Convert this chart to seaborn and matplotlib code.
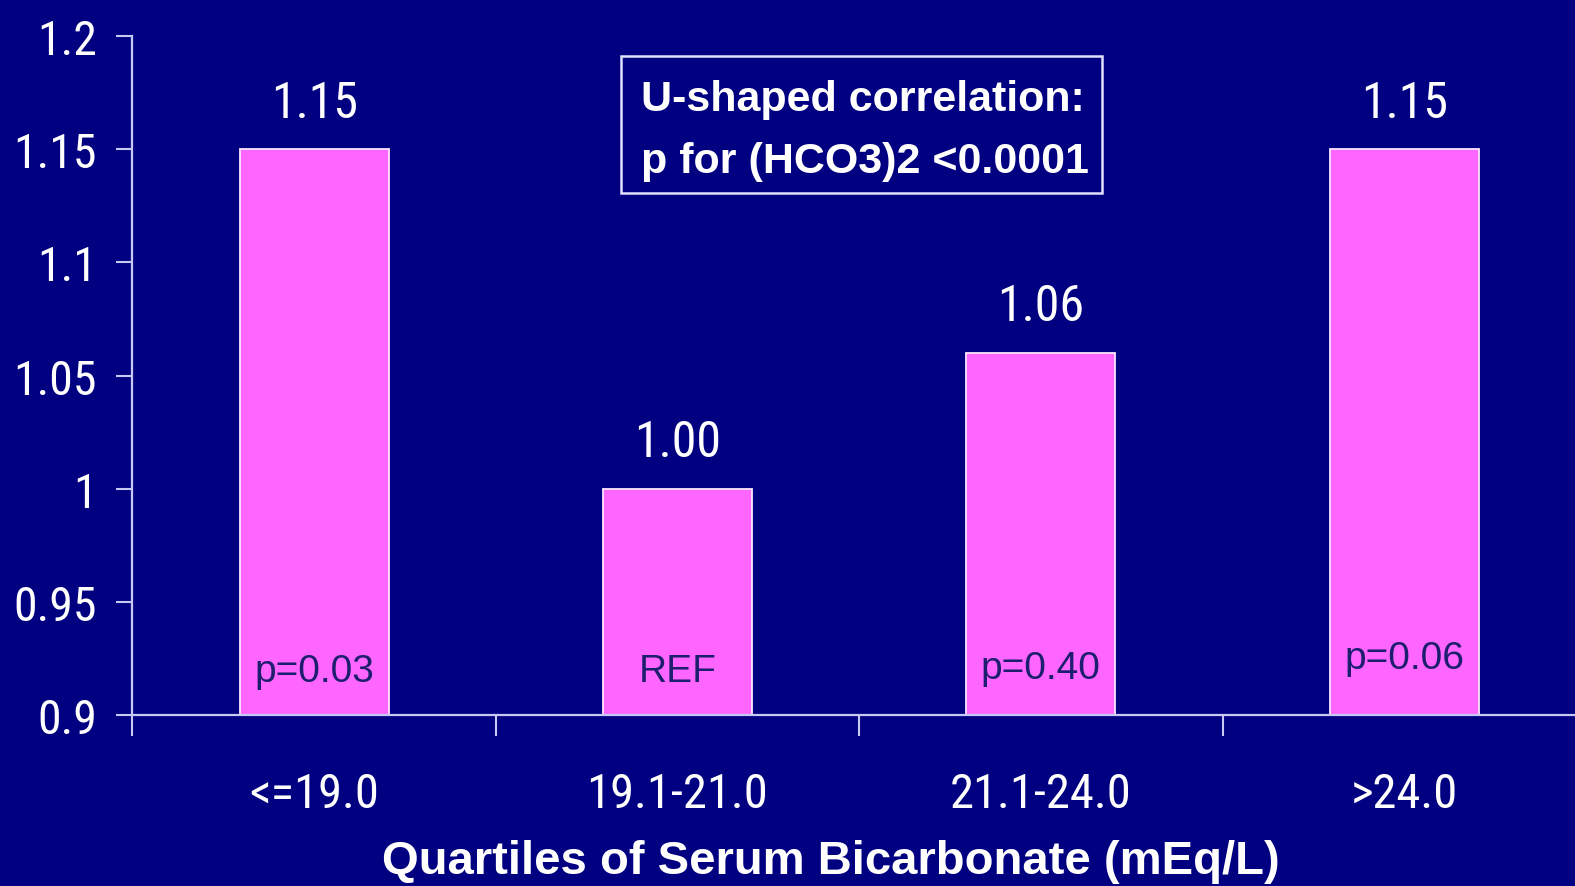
import matplotlib
matplotlib.use("Agg")
import matplotlib.pyplot as plt
from matplotlib.patches import Rectangle
import seaborn as sns
import pandas as pd

# Hazard ratios by quartile of serum bicarbonate
quartiles = ["<=19.0", "19.1-21.0", "21.1-24.0", ">24.0"]
hazard_ratio = [1.15, 1.00, 1.06, 1.15]
value_labels = ["1.15", "1.00", "1.06", "1.15"]
p_labels = ["p=0.03", "REF", "p=0.40", "p=0.06"]
y_ticks = [0.9, 0.95, 1.0, 1.05, 1.1, 1.15, 1.2]
y_tick_labels = ["0.9", "0.95", "1", "1.05", "1.1", "1.15", "1.2"]
note_lines = ["U-shaped correlation:", "p for (HCO3)2 <0.0001"]
x_title = "Quartiles of Serum Bicarbonate (mEq/L)"

BG = "#000080"
BAR = "#FF66FF"
AXIS = "#C8C8F4"
TEXT = "#FFFFFF"
INNER = "#1E1E6E"

sns.set_theme(style="ticks")
plt.rcParams["font.family"] = ["Roboto Condensed", "Liberation Sans", "DejaVu Sans"]
WIDE_FAMILY = ["Liberation Sans", "DejaVu Sans"]

df = pd.DataFrame({"quartile": quartiles, "hr": hazard_ratio})

fig = plt.figure(figsize=(15.75, 8.87), dpi=100, facecolor=BG)
ax = fig.add_axes([0.0841, 0.1926, 0.9228, 0.7655])
ax.set_facecolor(BG)

sns.barplot(data=df, x="quartile", y="hr", color=BAR, saturation=1,
            width=0.41, edgecolor="#FFE6FF", linewidth=1.3, ax=ax)

ax.set_ylim(0.9, 1.2)
ax.set_xlim(-0.5, 3.5)
ax.set_yticks(y_ticks)
ax.set_yticklabels(y_tick_labels)
ax.set_xticks([i - 0.5 for i in range(len(quartiles) + 1)], minor=False)
ax.set_xticklabels([""] * (len(quartiles) + 1))
ax.set_xticks(range(len(quartiles)), minor=True)
ax.set_xticklabels(quartiles, minor=True)
ax.tick_params(axis="x", which="minor", length=0, pad=40, labelsize=35, labelcolor=TEXT)
ax.tick_params(axis="x", which="major", length=15, width=1.5, color=AXIS, direction="out")
ax.tick_params(axis="y", length=11.5, width=1.5, color=AXIS, direction="out",
               pad=14, labelsize=34.5, labelcolor=TEXT)

for side in ["top", "right"]:
    ax.spines[side].set_visible(False)
for side in ["left", "bottom"]:
    ax.spines[side].set_color(AXIS)
    ax.spines[side].set_linewidth(1.6)
ax.set_xlabel("")
ax.set_ylabel("")

# value labels above bars and p-values inside bars
inner_baseline = [0.9151, 0.9151, 0.9164, 0.9209]
for i, (v, lab, pl) in enumerate(zip(hazard_ratio, value_labels, p_labels)):
    ax.annotate(lab, xy=(i, v), xytext=(0, 23.5), textcoords="offset points",
                ha="center", va="baseline", fontsize=36, color=TEXT)
    ax.text(i, inner_baseline[i], pl, ha="center", va="baseline", fontsize=28,
            color=INNER, family=WIDE_FAMILY)

# boxed note
fig.patches.append(Rectangle((0.3943, 0.7813), 0.3054, 0.1545, transform=fig.transFigure,
                             facecolor="none", edgecolor="#E0E0FF", linewidth=1.8))
fig.text(0.407, 0.8754, note_lines[0], fontsize=31, fontweight="bold", color=TEXT,
         ha="left", va="baseline", family=WIDE_FAMILY)
fig.text(0.407, 0.8052, note_lines[1], fontsize=31, fontweight="bold", color=TEXT,
         ha="left", va="baseline", family=WIDE_FAMILY)

fig.text(0.5277, 0.0147, x_title, fontsize=34, fontweight="bold", color=TEXT,
         ha="center", va="baseline", family=WIDE_FAMILY)

fig.savefig("out.png", dpi=100, facecolor=BG)
